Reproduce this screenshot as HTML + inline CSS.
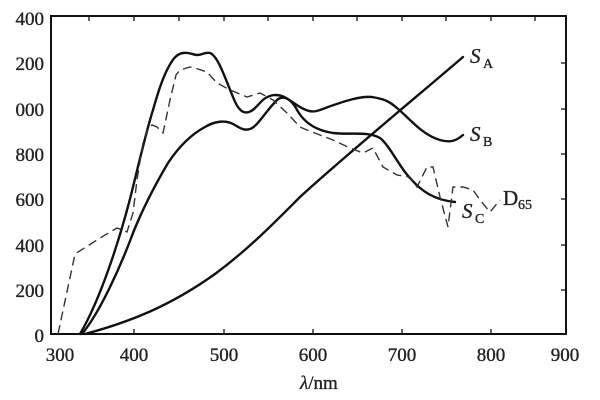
<!DOCTYPE html>
<html><head><meta charset="utf-8"><style>
html,body{margin:0;padding:0;background:#fff;}
svg{display:block;}
text{font-family:"Liberation Serif",serif;fill:#222;stroke:#222;stroke-width:0.35;}
</style></head><body>
<svg width="600" height="400" viewBox="0 0 600 400">
<rect x="51" y="16" width="515" height="318" fill="none" stroke="#111" stroke-width="2"/>
<g stroke="#111" stroke-width="1.3">
<line x1="134" y1="334" x2="134" y2="329"/><line x1="224" y1="334" x2="224" y2="329"/><line x1="313" y1="334" x2="313" y2="329"/><line x1="402" y1="334" x2="402" y2="329"/><line x1="491" y1="334" x2="491" y2="329"/>
<line x1="89" y1="16" x2="89" y2="21"/><line x1="134" y1="16" x2="134" y2="21"/><line x1="179" y1="16" x2="179" y2="21"/><line x1="224" y1="16" x2="224" y2="21"/><line x1="268" y1="16" x2="268" y2="21"/><line x1="313" y1="16" x2="313" y2="21"/><line x1="357" y1="16" x2="357" y2="21"/><line x1="402" y1="16" x2="402" y2="21"/><line x1="446" y1="16" x2="446" y2="21"/><line x1="491" y1="16" x2="491" y2="21"/><line x1="535" y1="16" x2="535" y2="21"/>
<line x1="566" y1="63" x2="561" y2="63"/><line x1="566" y1="109" x2="561" y2="109"/><line x1="566" y1="154" x2="561" y2="154"/><line x1="566" y1="199" x2="561" y2="199"/><line x1="566" y1="245" x2="561" y2="245"/><line x1="566" y1="290" x2="561" y2="290"/>
</g>
<g font-size="19" text-anchor="end">
<text x="44" y="25">400</text><text x="44" y="70">200</text><text x="44" y="116">000</text><text x="44" y="161">800</text><text x="44" y="206">600</text><text x="44" y="252">400</text><text x="44" y="297">200</text><text x="44" y="342">0</text>
</g>
<g font-size="19" text-anchor="middle">
<text x="60" y="361">300</text><text x="134" y="361">400</text><text x="224" y="361">500</text><text x="313" y="361">600</text><text x="402" y="361">700</text><text x="491" y="361">800</text><text x="565" y="361">900</text>
</g>
<text x="300" y="389" font-size="19"><tspan font-style="italic">λ</tspan>/nm</text>
<g fill="none" stroke="#111" stroke-width="2.4" stroke-linejoin="round" stroke-linecap="round">
<path d="M85,334 C130,322 170,306 215,274 C250,248 275,222 300,197 C340,160 420,94 463,57"/>
<path d="M80,334 C100,300 120,240 133,187 C142,150 148,125 153,110 C158,92 162,80 167,70 C172,60 176,54 183,53 C190,52 193,55 197,55 C203,55 204,52 210,53 C218,56 225,78 233,97 C238,110 243,114 249,112 C255,110 258,104 264,99 C270,95 275,94 282,96 C290,99 296,106 306,110 C313,113 318,111 328,107 C345,101 360,96 372,97 C385,99 390,102 397,108 C408,117 422,135 440,140 C450,143 456,141 463,135"/>
<path d="M82,334 C100,312 120,268 133,233 C143,208 155,185 168,163 C180,145 192,134 205,127 C215,121 225,120 233,124 C240,128 244,131 250,129 C258,126 265,112 277,100 C283,95 290,98 296,108 C302,120 313,130 333,133 C350,135 368,131 380,138 C390,146 400,168 410,178 C422,192 435,200 455,202"/>
</g>
<path d="M58,334 L75,254 L100,238 L117,228 L127,232 L133,213 L137,180 L143,143 L147,130 L152,125 L157,127 L163,133 L170,100 L176,75 L180,70 L190,67 L198,69 L207,72 L217,83 L230,90 L247,97 L260,93 L273,100 L287,113 L300,127 L307,130 L320,135 L333,140 L350,148 L363,153 L373,148 L383,167 L397,175 L410,177 L417,187 L427,167 L433,167 L440,197 L448,227 L453,187 L463,187 L473,190 L480,200 L490,212 L500,200" fill="none" stroke="#333" stroke-width="1.4" stroke-dasharray="9,5"/>
<g font-size="21">
<text x="470" y="63" font-style="italic">S</text><text x="483" y="68" font-size="14">A</text>
<text x="470" y="141" font-style="italic">S</text><text x="483" y="146" font-size="14">B</text>
<text x="462" y="218" font-style="italic">S</text><text x="475" y="223" font-size="14">C</text>
<text x="503" y="205">D</text><text x="518" y="209" font-size="14">65</text>
</g>
</svg>
</body></html>
